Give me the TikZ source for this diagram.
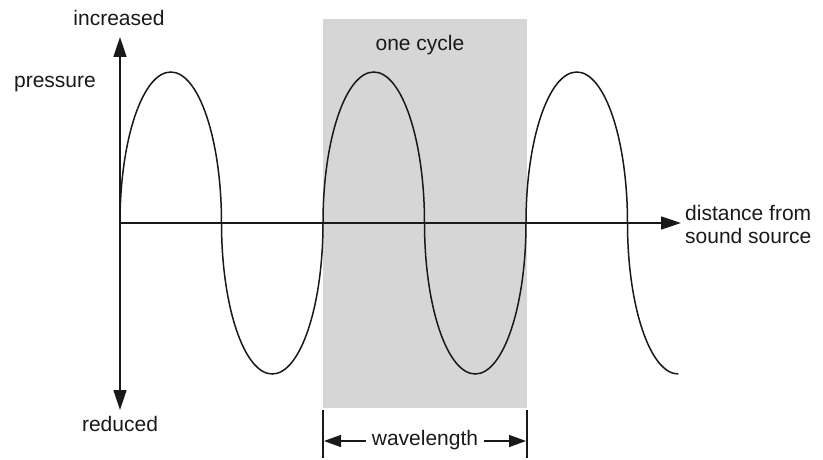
\documentclass[tikz,border=0pt]{standalone}
\usepackage{fontspec}
\setmainfont{Liberation Sans}
\usetikzlibrary{arrows.meta}
\definecolor{cyclegray}{RGB}{214,214,214}
\definecolor{ink}{RGB}{25,25,25}
\begin{document}
\begin{tikzpicture}[x=1pt,y=-1pt,
  lbl/.style={font=\fontsize{21}{23}\selectfont, text=ink, inner sep=0pt},
  axis/.style={line width=1.5pt, draw=ink, -{Triangle[length=20pt,width=13pt]}},
  wl/.style={line width=1.5pt, draw=ink, -{Triangle[length=17pt,width=12pt]}},
  wave/.style={line width=1.5pt, draw=ink},
  hump/.style={x radius=50.75pt, y radius=151pt}]
\useasboundingbox (0,0) rectangle (823,460);
% shaded cycle
\fill[cyclegray] (323,19) rectangle (527,408);
% axes
\coordinate (O) at (120,223);
\coordinate (Ytop) at (120,37);
\coordinate (Ybot) at (120,410);
\coordinate (Xend) at (681,223);
\draw[axis] (O) -- (Ytop);
\draw[axis] (O) -- (Ybot);
\draw[axis] (O) -- (Xend);
% wave
\draw[wave] (O)
  arc[hump, start angle=180, end angle=0]
  arc[hump, start angle=180, end angle=360]
  arc[hump, start angle=180, end angle=0]
  arc[hump, start angle=180, end angle=360]
  arc[hump, start angle=180, end angle=0]
  arc[hump, start angle=180, end angle=270];
% labels
\node[lbl] (inc) at (119,18) {increased};
\node[lbl] (pres) at (55,84) {pressure};
\node[lbl] (red) at (120,424) {reduced};
\node[lbl] (cyc) at (420,45) {one cycle};
\node[lbl, anchor=west, align=left] (dist) at (685,224) {distance from\\sound source};
% wavelength
\coordinate (tl1) at (323,410);
\coordinate (tl2) at (323,458);
\coordinate (tr1) at (527,410);
\coordinate (tr2) at (527,458);
\draw[line width=1.5pt, draw=ink] (tl1) -- (tl2);
\draw[line width=1.5pt, draw=ink] (tr1) -- (tr2);
\node[lbl] (wlen) at (425,440) {wavelength};
\coordinate (wlL) at (324,441);
\coordinate (wlR) at (526,441);
\draw[wl] ([xshift=-6pt]wlen.west |- wlL) -- (wlL);
\draw[wl] ([xshift=6pt]wlen.east |- wlR) -- (wlR);
\end{tikzpicture}
\end{document}
